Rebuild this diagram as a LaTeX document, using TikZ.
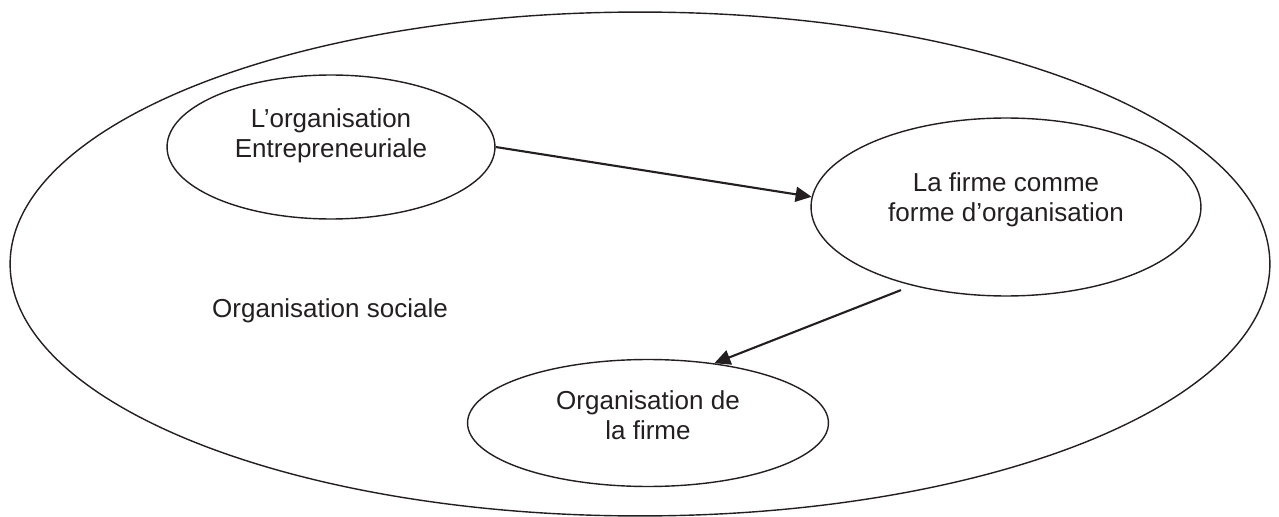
\documentclass[tikz,border=0pt]{standalone}
\usepackage{fontspec}
\setmainfont{Liberation Sans}
\usetikzlibrary{shapes.geometric,arrows.meta}
\definecolor{ink}{HTML}{231F20}
\begin{document}
\begin{tikzpicture}[x=0.02cm,y=-0.02cm,->,>={Triangle[length=3.2mm,width=3mm]},
  every node/.style={ellipse,draw=ink,line width=0.8pt,inner sep=0pt,align=center,
    text=ink,font=\fontsize{14.8}{17}\selectfont}]
  \useasboundingbox (0,0) rectangle (1279,517);
  \node (soc) [minimum width=25.2cm,minimum height=10.08cm] at (640,264) {};
  \node (ent) [minimum width=6.56cm,minimum height=2.88cm,text depth=0.55cm] at (331,147) {L’organisation\\Entrepreneuriale};
  \node (firme) [minimum width=7.8cm,minimum height=3.56cm,text depth=0.38cm] at (1006,207) {La firme comme\\forme d’organisation};
  \node (orgf) [minimum width=7.22cm,minimum height=2.54cm,text depth=0.3cm] at (648,423) {Organisation de\\la firme};
  \node (soclab) [draw=none,anchor=base] at (330,317) {Organisation sociale};
  \draw[ink,line width=1.2pt] (ent.east)--(firme.177);
  \draw[ink,line width=1.2pt,shorten <=0.24cm] (firme.220)--(orgf.42);
\end{tikzpicture}
\end{document}
